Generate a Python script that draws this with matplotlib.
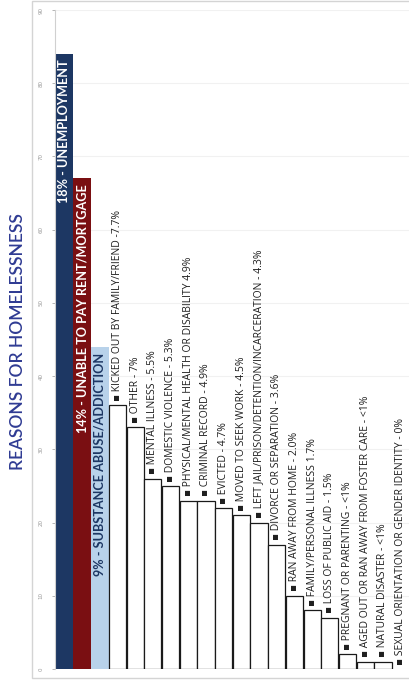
import matplotlib.pyplot as plt
import matplotlib.patches as patches
import numpy as np

reasons = ["18% - UNEMPLOYMENT",
           "14% - UNABLE TO PAY RENT/MORTGAGE",
           "9% - SUBSTANCE ABUSE/ADDICTION",
           "KICKED OUT BY FAMILY/FRIEND -7.7%",
           "OTHER - 7%",
           "MENTAL ILLNESS - 5.5%",
           "DOMESTIC VIOLENCE - 5.3%",
           "PHYSICAL/MENTAL HEALTH OR DISABILITY 4.9%",
           "CRIMINAL RECORD - 4.9%",
           "EVICTED - 4.7%",
           "MOVED TO SEEK WORK - 4.5%",
           "LEFT JAIL/PRISON/DETENTION/INCARCERATION - 4.3%",
           "DIVORCE OR SEPARATION - 3.6%",
           "RAN AWAY FROM HOME - 2.0%",
           "FAMILY/PERSONAL ILLNESS 1.7%",
           "LOSS OF PUBLIC AID - 1.5%",
           "PREGNANT OR PARENTING - <1%",
           "AGED OUT OR RAN AWAY FROM FOSTER CARE - <1%",
           "NATURAL DISASTER - <1%",
           "SEXUAL ORIENTATION OR GENDER IDENTITY - 0%"]
counts = [84, 67, 44, 36, 33, 26, 25, 23, 23, 22, 21, 20, 17, 10, 8, 7, 2, 1, 1, 0]
ticks = [0, 10, 20, 30, 40, 50, 60, 70, 80, 90]

# top three reasons get their own colours, the rest are outlined
top_colors = ['#1d3763', '#7a0f12', '#b8d2ea']
top_text = ['white', 'white', '#1d3763']

W, H = 409, 683
fig = plt.figure(figsize=(W / 100, H / 100), dpi=100)

# light frame around the whole chart
fig.patches.append(patches.Rectangle((32 / W, 5 / H), (W - 31) / W, (H - 6) / H,
                                     transform=fig.transFigure, fill=False,
                                     edgecolor='#d4d4d4', linewidth=1))

ax = fig.add_axes([54.6 / W, 14 / H, (W - 54.6) / W, 659 / H])
x = np.arange(len(counts))

for i, (n, name) in enumerate(zip(counts, reasons)):
    if i < 3:
        ax.bar(x[i], n, width=1.0, color=top_colors[i], edgecolor='none', zorder=2)
        ax.text(x[i], n - 0.8, name, rotation=90, ha='center', va='top',
                color=top_text[i], fontsize=9.1, fontweight='bold',
                family=['Lato', 'DejaVu Sans'], zorder=3)
    else:
        if n > 0:
            ax.bar(x[i], n, width=0.97, color='white', edgecolor='#1a1a1a',
                   linewidth=0.9, zorder=2)
        ax.text(x[i], n + 0.6, '\u25aa ' + name, rotation=90, ha='center', va='bottom',
                color='#1e1e1e', fontsize=7.5, family=['Open Sans', 'DejaVu Sans'],
                zorder=3)

ax.set_xlim(-0.55, 19.47)
ax.set_ylim(0, 90)
ax.set_yticks(ticks)
ax.set_yticklabels([str(t) for t in ticks], rotation=90, va='center')
ax.tick_params(axis='y', labelsize=4, colors='#999999', length=2, pad=6, width=0.5)
ax.set_xticks([])
ax.grid(axis='y', color='#f1f1f1', linewidth=0.8, zorder=0)
ax.set_axisbelow(True)
for side in ['top', 'right', 'bottom']:
    ax.spines[side].set_visible(False)
ax.spines['left'].set_color('#d0d0d0')
ax.spines['left'].set_linewidth(0.8)
ax.patch.set_alpha(0)

fig.text(18 / W, 1 - 342 / H, 'REASONS FOR HOMELESSNESS', rotation=90,
         ha='center', va='center', color='#2f3b93', fontsize=12.5,
         fontweight='semibold', family=['Lato', 'DejaVu Sans'])

fig.savefig('out.png', dpi=100)
